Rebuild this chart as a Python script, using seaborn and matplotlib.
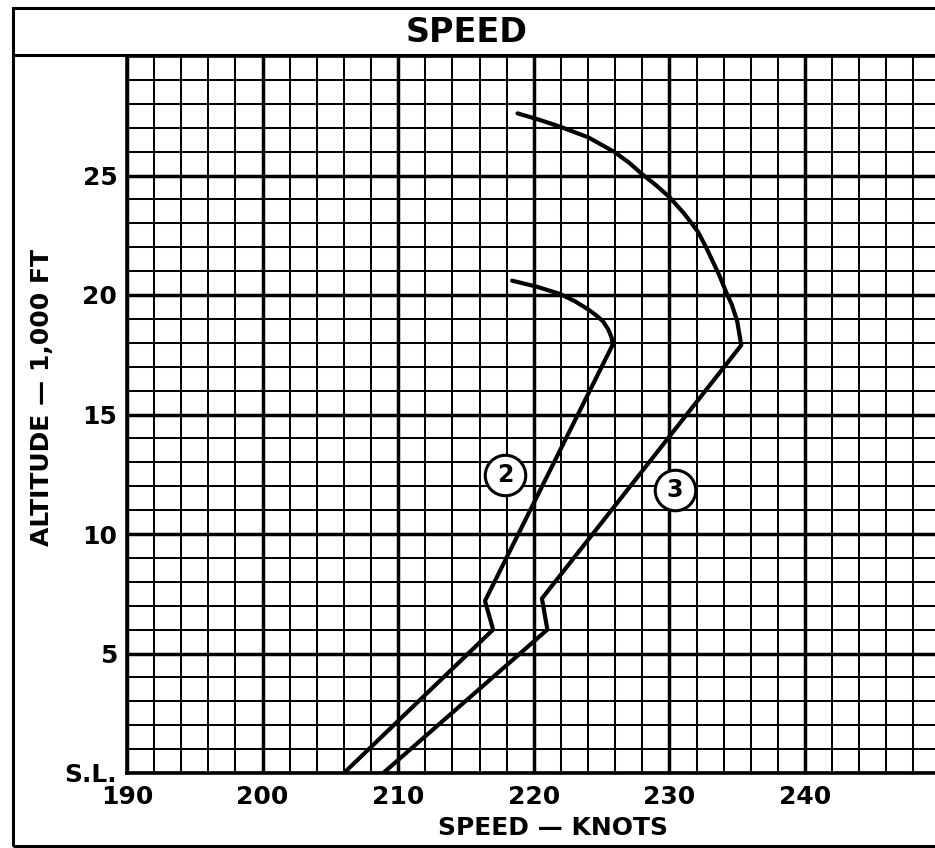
import numpy as np
import pandas as pd
import matplotlib
matplotlib.use("Agg")
import matplotlib.pyplot as plt
from matplotlib.patches import Rectangle
from matplotlib.lines import Line2D
import seaborn as sns

# kurva 2 (dalam) dan kurva 3 (luar), kecepatan knot vs ketinggian 1000 ft
speed_2 = [206.0, 217.0, 216.4, 225.8, 225.75, 225.5, 225.1, 224.6, 224.0, 223.0, 221.9, 220.2, 218.4]
alt_2 = [0.0, 6.0, 7.2, 17.9, 18.2, 18.55, 18.9, 19.15, 19.4, 19.75, 20.05, 20.35, 20.6]

speed_3 = [208.9, 221.0, 220.6, 235.3, 235.0, 234.6, 234.2, 233.7, 233.2, 232.7, 232.1,
           231.1, 230.0, 229.0, 228.0, 227.0, 225.9, 224.0, 221.9, 220.3, 218.8]
alt_3 = [0.0, 6.0, 7.3, 17.9, 18.9, 19.6, 20.1, 20.8, 21.4, 22.0, 22.65,
         23.4, 24.1, 24.6, 25.05, 25.55, 26.0, 26.6, 27.05, 27.35, 27.6]

x_ticks = [190, 200, 210, 220, 230, 240, 250]
x_labels = ['190', '200', '210', '220', '230', '240', '']
y_ticks = [0, 5, 10, 15, 20, 25]
y_labels = ['S.L.', '5', '10', '15', '20', '25']

curve_labels = ['2', '3']
label_speed = [217.9, 230.4]
label_alt = [12.45, 11.85]

df2 = pd.DataFrame({'speed': speed_2, 'alt': alt_2})
df3 = pd.DataFrame({'speed': speed_3, 'alt': alt_3})

sns.set_style("white")
plt.rcParams['font.family'] = ['DejaVu Sans']
plt.rcParams['font.weight'] = 'bold'
plt.rcParams['text.color'] = 'black'
plt.rcParams['xtick.color'] = 'black'
plt.rcParams['ytick.color'] = 'black'

W, H = 935, 848
fig = plt.figure(figsize=(W / 100, H / 100), dpi=100)
ax = fig.add_axes([127 / W, (H - 773) / H, (940.6 - 127) / W, (773 - 56) / H])

ax.set_xlim(190, 250)
ax.set_ylim(0, 30)
ax.set_xticks(x_ticks)
ax.set_xticks(np.arange(190, 251, 2), minor=True)
ax.set_yticks(y_ticks)
ax.set_yticks(np.arange(0, 31, 1), minor=True)
ax.set_xticklabels(x_labels, fontsize=18, fontweight='bold')
ax.set_yticklabels(y_labels, fontsize=18, fontweight='bold')
ax.tick_params(which='both', length=0, colors='black')
ax.tick_params(axis='x', pad=9)
ax.tick_params(axis='y', pad=7)

ax.grid(which='minor', color='black', lw=1.45)
ax.grid(which='major', color='black', lw=2.5)
ax.set_axisbelow(True)
for side in ['left', 'bottom', 'top']:
    ax.spines[side].set_color('black')
    ax.spines[side].set_linewidth(2.6)
ax.spines['right'].set_visible(False)

sns.lineplot(data=df2, x='speed', y='alt', sort=False, estimator=None,
             color='black', lw=3, ax=ax, zorder=3, solid_capstyle='round')
sns.lineplot(data=df3, x='speed', y='alt', sort=False, estimator=None,
             color='black', lw=3, ax=ax, zorder=3, solid_capstyle='round')
ax.set_xlabel('')
ax.set_ylabel('')

for lab, sx, sy in zip(curve_labels, label_speed, label_alt):
    ax.scatter([sx], [sy], s=850, facecolor='white', edgecolor='black',
               linewidth=2.2, zorder=4)
    ax.text(sx, sy, lab, ha='center', va='center', fontsize=17,
            fontweight='bold', zorder=5)

# bingkai luar dan judul
fig.add_artist(Rectangle((13 / W, (H - 846) / H), 1.2, (846 - 8) / H,
                         transform=fig.transFigure, fill=False,
                         edgecolor='black', lw=2.2, clip_on=False))
fig.add_artist(Line2D([13 / W, 1.0], [(H - 54.5) / H] * 2,
                      transform=fig.transFigure, color='black', lw=2.2))
fig.text(467 / W, (H - 32) / H, 'SPEED', ha='center', va='center',
         fontsize=24, fontweight='bold')
fig.text(553 / W, (H - 828) / H, 'SPEED — KNOTS', ha='center', va='center',
         fontsize=18, fontweight='bold')
fig.text(42.5 / W, (H - 397) / H, 'ALTITUDE — 1,000 FT', ha='center',
         va='center', rotation=90, fontsize=18, fontweight='bold')

fig.savefig('out.png', dpi=100)
